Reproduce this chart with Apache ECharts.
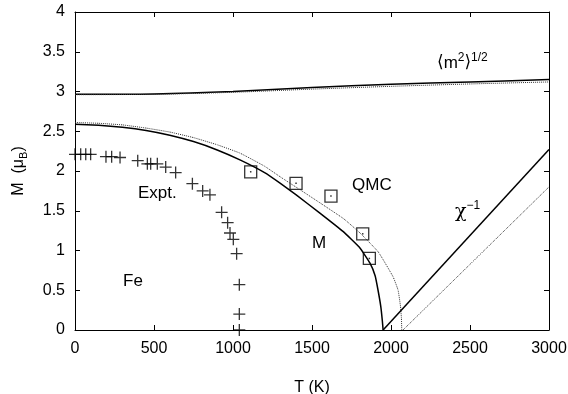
<!DOCTYPE html>
<html><head><meta charset="utf-8">
<script src="https://cdn.jsdelivr.net/npm/echarts@6/dist/echarts.min.js"></script>
<style>html,body{margin:0;padding:0;background:#fff}#c{width:568px;height:394px}</style>
</head><body><div id="c"></div>
<script>
// Experimental (Expt.) points: [T (K), M (muB)]
const exptT = [0, 36, 68, 99, 196, 232, 285, 397, 458, 479, 521, 574, 637, 743, 808, 854, 928, 966, 981, 1002, 1023, 1040, 1040, 1040];
const exptM = [2.21, 2.21, 2.21, 2.21, 2.18, 2.18, 2.17, 2.13, 2.09, 2.09, 2.09, 2.05, 1.98, 1.84, 1.75, 1.70, 1.48, 1.35, 1.22, 1.14, 0.96, 0.57, 0.20, 0.0];
// QMC points
const qmcT = [1112, 1399, 1620, 1821, 1863];
const qmcM = [1.99, 1.845, 1.685, 1.21, 0.90];
// M curve (solid)
const mT = [0, 150, 300, 450, 600, 750, 900, 1044, 1200, 1300, 1400, 1550, 1696, 1800, 1867, 1900, 1918, 1935, 1945, 1950];
const mM = [2.587, 2.575, 2.55, 2.51, 2.45, 2.37, 2.265, 2.14, 1.98, 1.845, 1.70, 1.47, 1.24, 1.04, 0.84, 0.68, 0.50, 0.30, 0.12, 0.0];
// M curve (dotted)
const mdT = [0, 150, 300, 450, 600, 750, 900, 1044, 1200, 1300, 1420, 1550, 1700, 1804, 1920, 2013, 2045, 2060, 2066, 2068];
const mdM = [2.61, 2.60, 2.58, 2.54, 2.49, 2.42, 2.33, 2.225, 2.06, 1.925, 1.77, 1.60, 1.40, 1.22, 0.98, 0.67, 0.50, 0.30, 0.15, 0.0];
// chi^-1 lines
const chiT = [1950, 3000];
const chiV = [0.0, 2.27];
const chidT = [2076, 3000];
const chidV = [0.0, 1.80];
// <m^2>^1/2 curves
const m2T = [0, 500, 1000, 1500, 2000, 2500, 3000];
const m2V = [2.965, 2.97, 3.00, 3.05, 3.09, 3.12, 3.15];
const m2dV = [2.96, 2.965, 2.99, 3.03, 3.065, 3.095, 3.12];

const zip = (a, b) => a.map((v, i) => [v, b[i]]);
const font = 'Liberation Sans, Arial, sans-serif';
const chart = echarts.init(document.getElementById('c'));
const plus = 'path://M5,0L5,10M0,5L10,5';
const axisCommon = {
  min: 0,
  axisLine: {show: true, onZero: false, lineStyle: {color: '#000', width: 1}},
  axisTick: {show: true, inside: true, length: 5, lineStyle: {color: '#000'}},
  splitLine: {show: false}
};
chart.setOption({
  animation: false,
  grid: {left: 75, right: 19, top: 12, bottom: 64, containLabel: false, outerBoundsMode: 'none'},
  xAxis: [
    Object.assign({type: 'value', max: 3000, interval: 500, position: 'bottom',
      axisLabel: {color: '#000', fontSize: 16, fontFamily: font, margin: 11, formatter: v => String(v)},
      name: 'T (K)', nameLocation: 'middle', nameGap: 50,
      nameTextStyle: {color: '#000', fontSize: 16, fontFamily: font}}, axisCommon),
    Object.assign({type: 'value', max: 3000, interval: 500, position: 'top',
      axisLabel: {show: false}}, axisCommon)
  ],
  yAxis: [
    Object.assign({type: 'value', max: 4, interval: 0.5, position: 'left',
      axisLabel: {color: '#000', fontSize: 16, fontFamily: font, margin: 10, formatter: v => String(v)},
      name: '{m|M  (μ}{s|B}{m|)}', nameLocation: 'middle', nameGap: 46, nameRotate: 90,
      nameTextStyle: {color: '#000', fontFamily: font,
        rich: {m: {fontSize: 16, fontFamily: font, color: '#000'},
               s: {fontSize: 11, fontFamily: font, color: '#000', padding: [9, 0, 0, 0]}}}}, axisCommon),
    Object.assign({type: 'value', max: 4, interval: 0.5, position: 'right',
      axisLabel: {show: false}}, axisCommon)
  ],
  series: [
    {type: 'line', data: zip(m2T, m2V), showSymbol: false, smooth: 0.3,
      lineStyle: {color: '#000', width: 1.5}},
    {type: 'line', data: zip(m2T, m2dV), showSymbol: false, smooth: 0.3,
      lineStyle: {color: '#333', width: 1, type: 'dotted'}},
    {type: 'line', data: zip(mdT, mdM), showSymbol: false, smooth: 0.12,
      lineStyle: {color: '#333', width: 1, type: 'dotted'}},
    {type: 'line', data: zip(mT, mM), showSymbol: false, smooth: 0.12,
      lineStyle: {color: '#000', width: 1.5}},
    {type: 'line', data: zip(chiT, chiV), showSymbol: false,
      lineStyle: {color: '#000', width: 1.5}},
    {type: 'line', data: zip(chidT, chidV), showSymbol: false,
      lineStyle: {color: '#333', width: 1, type: 'dotted'}},
    {type: 'scatter', data: zip(exptT, exptM), symbol: plus, symbolSize: 12,
      itemStyle: {color: 'none', borderColor: '#000', borderWidth: 1.3}},
    {type: 'scatter', data: zip(qmcT, qmcM), symbol: 'rect', symbolSize: 12,
      itemStyle: {color: 'rgba(0,0,0,0)', borderColor: '#000', borderWidth: 1.3}},
    {type: 'scatter', data: zip(qmcT, qmcM), symbol: 'rect', symbolSize: 1.5,
      itemStyle: {color: '#000'}}
  ],
  graphic: [
    {type: 'text', left: 138, top: 185, style: {text: 'Expt.', font: '17px ' + font, fill: '#000'}},
    {type: 'text', left: 123, top: 273, style: {text: 'Fe', font: '17px ' + font, fill: '#000'}},
    {type: 'text', left: 352, top: 177, style: {text: 'QMC', font: '17px ' + font, fill: '#000'}},
    {type: 'text', left: 312, top: 235, style: {text: 'M', font: '17px ' + font, fill: '#000'}},
    {type: 'text', left: 455, top: 200, style: {
      text: '{c|χ}{s|−1}', rich: {c: {font: '19px DejaVu Serif', fill: '#000'},
        s: {font: '12px ' + font, fill: '#000', padding: [0, 0, 12, 0]}}}},
    {type: 'text', left: 437, top: 52, style: {
      text: '{b|⟨}{m|m}{s|2}{b|⟩}{s|1/2}', rich: {m: {font: '17px ' + font, fill: '#000'},
        b: {font: '17px DejaVu Sans', fill: '#000'},
        s: {font: '12px ' + font, fill: '#000', padding: [0, 0, 10, 0]}}}}
  ]
});
</script></body></html>
